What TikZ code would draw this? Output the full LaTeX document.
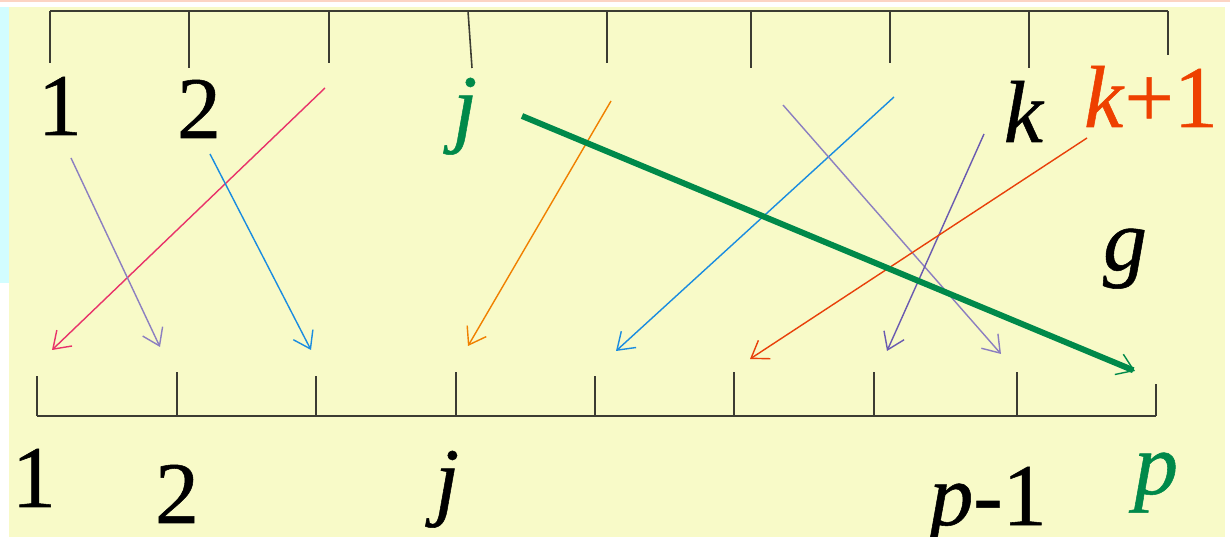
\documentclass[tikz,border=0pt]{standalone}
\usepackage{fontspec}
\setmainfont[FakeBold=0.6]{Liberation Serif}
\usetikzlibrary{arrows.meta}
\definecolor{PaperYellow}{HTML}{F8FAC8}
\definecolor{PaperCyan}{HTML}{D2FDFF}
\definecolor{PaperPink}{HTML}{FCD4C4}
\definecolor{RulerGray}{HTML}{3C3C32}
\definecolor{JGreen}{HTML}{00894A}
\definecolor{KOrange}{HTML}{EE4000}
\definecolor{MapPink}{HTML}{E8336A}
\definecolor{MapLav}{HTML}{8C7FC0}
\definecolor{MapBlue}{HTML}{1A8CE0}
\definecolor{MapOrange}{HTML}{F08000}
\definecolor{MapRed}{HTML}{E8400A}
\definecolor{MapSlate}{HTML}{6A5AB0}

\begin{document}
\begin{tikzpicture}[x=0.01cm, y=-0.01cm, font=\fontsize{25}{30}\selectfont,
   lbl/.style={anchor=base, inner sep=0pt},
   ruler/.style={RulerGray, line width=0.6pt},
   tick/.style={RulerGray, line width=0.45pt},
   map/.style={line width=0.4pt, -{Straight Barb[length=1.6mm, width=2.2mm]}}]
  % Hintergrund
  \useasboundingbox (0,0) rectangle (1230,537);
  \fill[white] (0,0) rectangle (1230,537);
  \fill[PaperPink] (0,0) rectangle (1230,2);
  \fill[PaperCyan] (0,7) rectangle (9,283);
  \fill[PaperYellow] (9,7) rectangle (1225,537);

  % obere Skala
  \draw[ruler] (50,11) -- (1168,11);
  \foreach \x/\y in {50/63, 189/68, 329/63, 607/63, 751/68, 890/63, 1029/68, 1168/55}
    \draw[tick] (\x,11) -- (\x,\y);
  \draw[tick] (468,11) -- (472,68);

  % untere Skala
  \draw[ruler] (37,416) -- (1156,416);
  \foreach \x/\y in {37/376, 177/372, 316/376, 456/372, 595/376, 734/372, 874/372, 1017/372, 1156/384}
    \draw[tick] (\x,416) -- (\x,\y);

  \node[lbl] (t1)  at (60,135)   {1};
  \node[lbl] (t2)  at (199,138)  {2};
  \node[lbl, JGreen] (tj) at (465,136) {\textit{j}};
  \node[lbl] (tk)  at (1024,142) {\textit{k}};
  \node[lbl, KOrange] (tk1) at (1151,127) {\textit{k}+1};
  \node[lbl] (g)   at (1125,270) {\textit{g}};

  \node[lbl] (b1)  at (34,507)   {1};
  \node[lbl] (b2)  at (177,523)  {2};
  \node[lbl] (bj)  at (447,509)  {\textit{j}};
  \node[lbl] (bpm) at (988,525)  {\textit{p}-1};
  \node[lbl, JGreen] (bp) at (1156,494) {\textit{p}};

  % Anfangs- und Endpunkte der Zuordnungen
  \coordinate (s1) at (325,88);   \coordinate (e1) at (52,350);
  \coordinate (s2) at (71,158);   \coordinate (e2) at (160,347);
  \coordinate (s3) at (210,154);  \coordinate (e3) at (311,350);
  \coordinate (s4) at (611,101);  \coordinate (e4) at (468,346);
  \coordinate (s5) at (894,97);   \coordinate (e5) at (616,351);
  \coordinate (s6) at (783,105);  \coordinate (e6) at (1001,354);
  \coordinate (s7) at (984,134);  \coordinate (e7) at (887,351);
  \coordinate (s8) at (1087,138); \coordinate (e8) at (750,359);
  \coordinate (sj) at (522,116);  \coordinate (ep) at (1135,371);

  \foreach \n/\c in {1/MapPink, 2/MapLav, 3/MapBlue, 4/MapOrange,
                     5/MapBlue, 6/MapLav, 7/MapSlate, 8/MapRed}
    \draw[map, \c] (s\n) -- (e\n);
  \draw[JGreen, line width=1.7pt,
        -{Straight Barb[length=1.6mm, width=2.2mm, line width=0.4pt]}] (sj) -- (ep);
\end{tikzpicture}
\end{document}
